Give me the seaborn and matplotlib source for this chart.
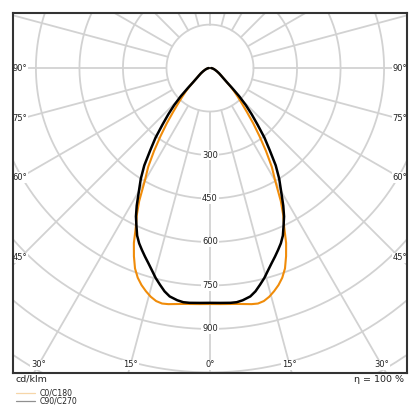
import numpy as np
import pandas as pd
import matplotlib
matplotlib.use("Agg")
import matplotlib.pyplot as plt
from matplotlib.lines import Line2D
import seaborn as sns

# light distribution, gamma angle (deg from nadir) -> cd/klm
gamma = [0, 2.5, 5, 6.5, 8, 10, 11.5, 13, 14.5, 16, 17.5, 19, 20.5, 22, 23.5,
         25, 26.5, 28, 30, 32, 34, 36, 38, 40, 42, 44, 46, 48, 50, 53, 56, 60,
         65, 70, 75, 80, 85, 90]
c0_c180 = [814, 815, 817, 819, 822, 827, 829, 825, 815, 801, 785, 765, 738, 700,
           658, 605, 565, 520, 450, 402, 345, 290, 242, 198, 164, 138, 116, 96,
           76, 57, 46, 36, 26, 19, 14, 10, 7, 4]
c90_c270 = [810, 811, 813, 813, 809, 800, 786, 767, 748, 726, 706, 688, 670, 652,
            630, 600, 572, 538, 490, 450, 405, 350, 305, 255, 215, 178, 140, 102,
            76, 57, 46, 36, 26, 19, 14, 10, 7, 4]

series_names = ["C0/C180", "C90/C270"]
series_colors = ["#f08c0a", "#000000"]
ring_values = [150, 300, 450, 600, 750, 900, 1050, 1200, 1350]
ring_labels = [300, 450, 600, 750, 900]
spoke_angles = np.arange(0, 360, 15)
side_labels = [90, 75, 60, 45]
bottom_labels = [30, 15, 0, 15, 30]
bottom_signs = [-1, -1, 0, 1, 1]


def to_xy(g_deg, r):
    g = np.radians(g_deg)
    return np.asarray(r) * np.sin(g), -np.asarray(r) * np.cos(g)


rows = []
for name, vals in zip(series_names, [c0_c180, c90_c270]):
    # C0 half on the right, C180 half mirrored to the left
    g = [-a for a in gamma[::-1]] + gamma[1:]
    r = vals[::-1] + vals[1:]
    x, y = to_xy(np.array(g), r)
    for xx, yy in zip(x, y):
        rows.append({"series": name, "x": xx, "y": yy})
df = pd.DataFrame(rows)

sns.set_style("white")
plt.rcParams["font.family"] = ["DejaVu Sans"]

fig = plt.figure(figsize=(4.2, 4.2), dpi=100)
ax = fig.add_axes([13 / 420, 47 / 420, 394 / 420, 360 / 420])
ax.set_xlim(-679, 679)
ax.set_ylim(-1052, 190)

grid_kw = dict(color="#d2d2d2", lw=1.3, zorder=1)
t = np.linspace(0, 2 * np.pi, 400)
for rv in ring_values:
    ax.plot(rv * np.cos(t), rv * np.sin(t), **grid_kw)
for a in spoke_angles:
    x0, y0 = to_xy(a, 150)
    x1, y1 = to_xy(a, 2500)
    ax.plot([x0, x1], [y0, y1], **grid_kw)

lab_kw = dict(fontsize=6, ha="center", va="center", zorder=2, color="#222222",
              bbox=dict(fc="white", ec="none", pad=0.6))
for rv in ring_labels:
    ax.text(0, -rv, str(rv), **lab_kw)

d = 190 / 0.29
for a in side_labels:
    yy = -d / np.tan(np.radians(a)) if a != 90 else 0
    ax.text(-d, yy, f"{a}°", **lab_kw)
    ax.text(d, yy, f"{a}°", **lab_kw)
yb = -(365 - 68) / 0.29
for a, s in zip(bottom_labels, bottom_signs):
    ax.text(s * -yb * np.tan(np.radians(a)), yb, f"{a}°", **lab_kw)

n_before = len(ax.lines)
sns.lineplot(data=df, x="x", y="y", hue="series", estimator=None,
             sort=False, palette=dict(zip(series_names, series_colors)),
             legend=False, ax=ax, zorder=3)
for line, w in zip(ax.lines[n_before:], [1.5, 1.8]):
    line.set_linewidth(w)
    line.set_solid_joinstyle("round")
    line.set_solid_capstyle("round")

ax.set_xticks([])
ax.set_yticks([])
ax.set_xlabel("")
ax.set_ylabel("")
for sp in ax.spines.values():
    sp.set_color("#333333")
    sp.set_linewidth(1.5)
    sp.set_visible(True)

fig.text(16 / 420, 1 - 379 / 420, "cd/klm", fontsize=6.8, va="center", ha="left",
         color="#222222")
fig.text(404 / 420, 1 - 379 / 420, "η = 100 %", fontsize=6.8, va="center",
         ha="right", color="#222222")

leg_colors = ["#f6d6a8", "#909090"]
for i, (name, c) in enumerate(zip(series_names, leg_colors)):
    yy = 1 - (393 + 8 * i) / 420
    fig.add_artist(Line2D([16 / 420, 35 / 420], [yy, yy], color=c, lw=0.9))
    fig.text(40 / 420, yy, name, fontsize=5.6, va="center", ha="left",
             color="#222222")

fig.savefig("out.png", dpi=100)
